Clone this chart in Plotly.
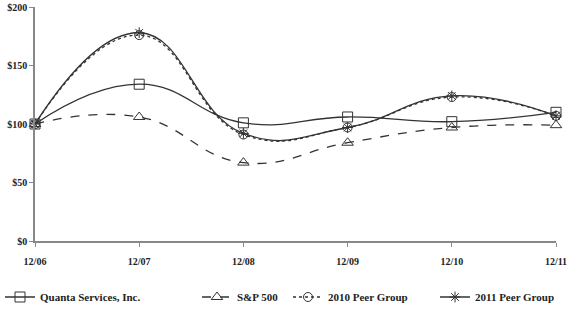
import plotly.graph_objects as go

categories = ["12/06", "12/07", "12/08", "12/09", "12/10", "12/11"]
quanta = [100, 134, 101, 106, 102, 110]
sp500 = [100, 106, 67, 84, 97, 99]
peer2010 = [100, 176, 91, 97, 123, 107]
peer2011 = [100, 178, 92, 97, 124, 107]
y_ticks = [0, 50, 100, 150, 200]
y_tick_labels = ["$0", "$50", "$100", "$150", "$200"]

C = "#333333"
xs = list(range(len(categories)))

series = [
    ("Quanta Services, Inc.", quanta, "solid", "square-open", 10, "legend"),
    ("S&P 500", sp500, "dash", "triangle-up-open", 10, "legend2"),
    ("2010 Peer Group", peer2010, "dot", "circle-open", 9, "legend3"),
    ("2011 Peer Group", peer2011, "solid", "asterisk-open", 9, "legend4"),
]

fig = go.Figure()
for name, vals, dash, sym, size, lg in series:
    fig.add_trace(go.Scatter(
        x=xs, y=vals, name=name, mode="lines+markers",
        line=dict(color=C, width=1.3, dash=dash, shape="spline", smoothing=1.3),
        marker=dict(symbol=sym, size=size, color=C, line=dict(color=C, width=1)),
        cliponaxis=False, legend=lg,
    ))

font = dict(family="Liberation Serif", size=11, color="#222")
legend_x = [0.0, 197 / 579, 288 / 579, 435 / 579]
layout_legends = {}
for i, lx in enumerate(legend_x):
    key = "legend" if i == 0 else f"legend{i+1}"
    layout_legends[key] = dict(
        x=lx, xref="container", y=1 - 297 / 332, yref="container",
        xanchor="left", yanchor="middle", orientation="h",
        font=dict(family="Liberation Serif", size=11, color="#222", weight="bold"),
        bgcolor="rgba(0,0,0,0)", borderwidth=0, itemwidth=30,
        tracegroupgap=0,
    )

fig.update_layout(
    width=579, height=332,
    margin=dict(l=35, r=23, t=7, b=91, autoexpand=False),
    plot_bgcolor="white", paper_bgcolor="white",
    showlegend=True,
    font=font,
    **layout_legends,
)
fig.update_xaxes(
    range=[0, 5], tickmode="array", tickvals=xs, ticktext=categories,
    showgrid=False, zeroline=False, showline=True, linecolor="#888", linewidth=1.5,
    ticks="outside", ticklen=4, tickcolor="#888",
    tickfont=dict(family="Liberation Serif", size=10, color="#222", weight="bold"),
    ticklabelstandoff=6,
)
fig.update_yaxes(
    range=[0, 200], tickmode="array", tickvals=y_ticks, ticktext=y_tick_labels,
    showgrid=False, zeroline=False, showline=True, linecolor="#888", linewidth=1.5,
    ticks="outside", ticklen=4, tickcolor="#888",
    tickfont=dict(family="Liberation Serif", size=10, color="#222", weight="bold"),
)
fig.write_html("out.html")
